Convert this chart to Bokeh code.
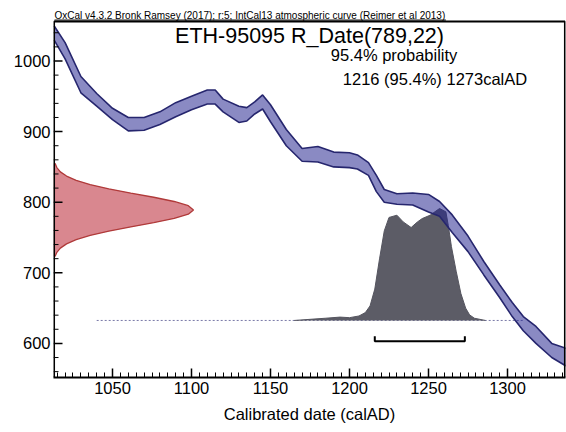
import numpy as np
from bokeh.plotting import figure
from bokeh.models import Label, SingleIntervalTicker, Range1d
from bokeh.core.properties import value
from bokeh.embed import file_html
from bokeh.resources import INLINE

# IntCal13 calibration band (1 sigma)
curve_year = [1013, 1020, 1030, 1040, 1050, 1060, 1070, 1080, 1090, 1100, 1110, 1115, 1120,
              1130, 1135, 1140, 1145, 1150, 1160, 1170, 1180, 1190, 1200, 1205, 1212, 1217,
              1222, 1230, 1240, 1250, 1257, 1265, 1275, 1285, 1295, 1303, 1310, 1318, 1328, 1337]
curve_upper = [1050, 1026, 978, 954, 933, 920, 920, 928, 941, 950, 959, 959, 946,
               936, 934, 942, 952, 938, 903, 876, 879, 871, 870, 867, 856, 838,
               818, 812, 813, 811, 801, 782, 752, 716, 683, 658, 638, 624, 600, 593]
curve_lower = [1030, 1003, 955, 936, 917, 901, 902, 910, 921, 931, 939, 939, 928,
               913, 915, 925, 932, 914, 880, 858, 857, 850, 849, 847, 838, 815,
               800, 797, 796, 786, 780, 757, 730, 697, 665, 638, 618, 600, 580, 568]

# radiocarbon measurement R_Date(789,22): ages and relative density
rc_age = [723, 729, 735, 741, 747, 753, 759, 765, 771, 777, 783, 789,
          795, 801, 807, 813, 819, 825, 831, 837, 843, 849, 855]
rc_density = [0.011, 0.024, 0.049, 0.093, 0.162, 0.262, 0.395, 0.552, 0.716, 0.862, 0.963, 1.0,
              0.963, 0.862, 0.716, 0.552, 0.395, 0.262, 0.162, 0.093, 0.049, 0.024, 0.011]

# calibrated distribution (relative probability)
cal_year = [1165, 1175, 1185, 1194, 1200, 1206, 1210, 1213, 1216, 1219, 1222, 1225, 1230, 1234,
            1239, 1243, 1246, 1251, 1257, 1261, 1262.5, 1264.5, 1267.5, 1270.5, 1273.5, 1276, 1279, 1286]
cal_prob = [0.0, 0.01, 0.02, 0.03, 0.025, 0.04, 0.07, 0.13, 0.28, 0.55, 0.80, 0.92, 0.94, 0.88,
            0.83, 0.88, 0.91, 0.94, 1.0, 0.97, 0.85, 0.66, 0.44, 0.24, 0.11, 0.05, 0.02, 0.0]

range_95 = [1216, 1273]
header = "OxCal v4.3.2 Bronk Ramsey (2017); r:5; IntCal13 atmospheric curve (Reimer et al 2013)"
title = "ETH-95095 R_Date(789,22)"
prob_text = "95.4% probability"
range_text = "1216 (95.4%) 1273calAD"
xlabel = "Calibrated date (calAD)"

X0, X1 = 1012.66, 1336.7
Y0, Y1 = 551.7, 1085.7
BOX_TOP = 1056.0
BOX_RIGHT = 1336.35
BOX_LEFT = 1013.0
BASE = 632.5
PX_X = 1 / 1.58     # data units per pixel, x
FONT = "Liberation Sans"

p = figure(width=566, height=432, output_backend="svg", toolbar_location=None,
           x_range=Range1d(X0, X1), y_range=Range1d(Y0, Y1),
           min_border_left=53, min_border_right=1, min_border_top=0, min_border_bottom=55)
p.outline_line_color = None
p.grid.visible = False
p.background_fill_color = None
p.border_fill_color = None

# measurement distribution on the y axis
rc_w = X0 + np.array(rc_density) * 88.6
p.harea(y=rc_age, x1=X0, x2=rc_w, fill_color="#d9878f", fill_alpha=1.0)
p.line(rc_w, rc_age, line_color="#b03a3a", line_width=1.3)

# baseline of the calibrated distribution
p.line([1040, 1310], [BASE, BASE], line_color="#7a7aa8", line_width=1, line_dash="2 2")

# calibrated distribution
cal_top = BASE + np.array(cal_prob) * 158.6
p.varea(x=cal_year, y1=BASE, y2=cal_top, fill_color="#5c5c66")
p.line(cal_year, cal_top, line_color="#55555f", line_width=1)

# calibration curve band
p.varea(x=curve_year, y1=curve_lower, y2=curve_upper, fill_color="#1e1e8c", fill_alpha=0.52)
p.line(curve_year, curve_upper, line_color="#26266e", line_width=1.6)
p.line(curve_year, curve_lower, line_color="#26266e", line_width=1.6)

# 95.4% range bracket
p.line([range_95[0], range_95[0], range_95[1], range_95[1]], [610, 603, 603, 610],
       line_color="black", line_width=2)

# box: left, top and right edges
p.line([BOX_LEFT, BOX_LEFT, BOX_RIGHT, BOX_RIGHT], [Y0, BOX_TOP, BOX_TOP, Y0],
       line_color="black", line_width=2)

# y ticks pointing inward
major_y = [600, 700, 800, 900, 1000]
minor_y = [v for v in range(560, 1056, 20) if v % 100 != 0]
p.segment(x0=[X0] * len(major_y), y0=major_y, x1=[X0 + 9 * PX_X] * len(major_y), y1=major_y,
          line_color="black", line_width=1.5)
p.segment(x0=[X0] * len(minor_y), y0=minor_y, x1=[X0 + 5 * PX_X] * len(minor_y), y1=minor_y,
          line_color="black", line_width=1)

# texts
p.text(x=[1013.3], y=[1064.0], text=[header], text_font=value(FONT), text_font_size="10px",
       text_color="black", text_baseline="middle", text_align="left")
p.line([1013.3, 1261.0], [1058.0, 1058.0], line_color="black", line_width=1)
p.add_layout(Label(x=1174.7, y=1036, text=title, text_font=FONT, text_font_size="21.5px",
                   text_color="black", text_baseline="middle", text_align="center"))
p.add_layout(Label(x=1228.2, y=1007.8, text=prob_text, text_font=FONT, text_font_size="16.5px",
                   text_color="black", text_baseline="middle", text_align="center"))
p.add_layout(Label(x=1254.1, y=975.2, text=range_text, text_font=FONT, text_font_size="16.5px",
                   text_color="black", text_baseline="middle", text_align="center"))

# axes
p.xaxis.ticker = SingleIntervalTicker(interval=50, num_minor_ticks=10)
p.yaxis.ticker = SingleIntervalTicker(interval=100, num_minor_ticks=5)
for ax in (p.xaxis, p.yaxis):
    ax.major_label_text_font = FONT
    ax.major_label_text_font_size = "16.5px"
    ax.major_label_text_color = "black"
p.xaxis.axis_line_color = "black"
p.xaxis.axis_line_width = 2
p.xaxis.major_tick_in = 9
p.xaxis.major_tick_out = 0
p.xaxis.minor_tick_in = 5
p.xaxis.minor_tick_out = 0
p.xaxis.major_tick_line_color = "black"
p.xaxis.major_tick_line_width = 1.5
p.xaxis.minor_tick_line_color = "black"
p.xaxis.minor_tick_line_width = 1
p.yaxis.axis_line_color = None
p.yaxis.major_tick_line_color = None
p.yaxis.minor_tick_line_color = None
p.yaxis.major_tick_out = 0
p.yaxis.major_tick_in = 0
p.yaxis.minor_tick_out = 0
p.yaxis.minor_tick_in = 0
p.xaxis.major_label_standoff = 4
p.yaxis.major_label_standoff = 3
p.xaxis.axis_label = xlabel
p.xaxis.axis_label_text_font = FONT
p.xaxis.axis_label_text_font_size = "16.5px"
p.xaxis.axis_label_text_font_style = "normal"
p.xaxis.axis_label_text_color = "black"
p.xaxis.axis_label_standoff = 8

open("out.html", "w").write(file_html(p, INLINE))
